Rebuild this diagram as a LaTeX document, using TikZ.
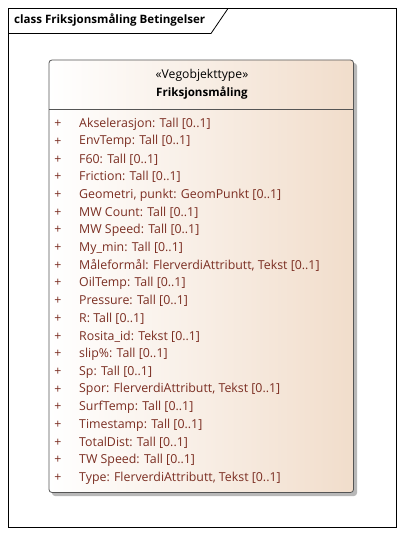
\documentclass[tikz,border=0pt]{standalone}
\usepackage{fontspec}
\setmainfont{Open Sans}
\usetikzlibrary{shadows}
\definecolor{attr}{HTML}{7B2E22}
\definecolor{fillR}{HTML}{F1DDCB}
\definecolor{edge}{HTML}{555555}
\tikzset{
  attrtext/.style={anchor=west, inner sep=0pt, text=attr, font=\fontsize{12.4}{14}\selectfont},
  plus/.style={anchor=center, inner sep=0pt, text=attr, font=\fontsize{12.4}{14}\selectfont},
}
\begin{document}
\begin{tikzpicture}[x=1bp,y=-1bp]
\useasboundingbox (0,0) rectangle (405,538);
% frame
\draw[black, line width=0.8bp] (8.5,8.5) rectangle (396.5,527.5);
\draw[black, line width=0.8bp] (8.5,33.5) -- (211,33.5) -- (228,8.5);
\node[anchor=west, inner sep=0pt, font=\bfseries\fontsize{11.6}{14}\selectfont] (title) at (14,20.5) {class Friksjonsmåling Betingelser};
% shadow
\fill[black!28, rounded corners=3bp] (52,63) rectangle (357,496);
% class box
\shade[left color=white, right color=fillR, rounded corners=3bp] (49,60) rectangle (353.5,492.5);
\draw[edge, line width=0.8bp, rounded corners=3bp] (49,60) rectangle (353.5,492.5);
\draw[edge, line width=0.8bp] (49,109) -- (353.5,109);
\node[inner sep=0pt, font=\fontsize{12.2}{14}\selectfont] (stereo) at (202,75) {«Vegobjekttype»};
\node[inner sep=0pt, font=\bfseries\fontsize{11.6}{14}\selectfont] (cname) at (202,93) {Friksjonsmåling};
\foreach \t [count=\i from 0] in {
 {Akselerasjon: Tall [0..1]},
 {EnvTemp: Tall [0..1]},
 {F60: Tall [0..1]},
 {Friction: Tall [0..1]},
 {Geometri, punkt: GeomPunkt [0..1]},
 {MW Count: Tall [0..1]},
 {MW Speed: Tall [0..1]},
 {My\_min: Tall [0..1]},
 {Måleformål: FlerverdiAttributt, Tekst [0..1]},
 {OilTemp: Tall [0..1]},
 {Pressure: Tall [0..1]},
 {R: Tall [0..1]},
 {Rosita\_id: Tekst [0..1]},
 {slip\%: Tall [0..1]},
 {Sp: Tall [0..1]},
 {Spor: FlerverdiAttributt, Tekst [0..1]},
 {SurfTemp: Tall [0..1]},
 {Timestamp: Tall [0..1]},
 {TotalDist: Tall [0..1]},
 {TW Speed: Tall [0..1]},
 {Type: FlerverdiAttributt, Tekst [0..1]}} {
  \node[plus] (p\i) at (58,124+17.7*\i) {+};
  \node[attrtext] (a\i) at (79,124+17.7*\i) {\t};
}
\end{tikzpicture}
\end{document}
